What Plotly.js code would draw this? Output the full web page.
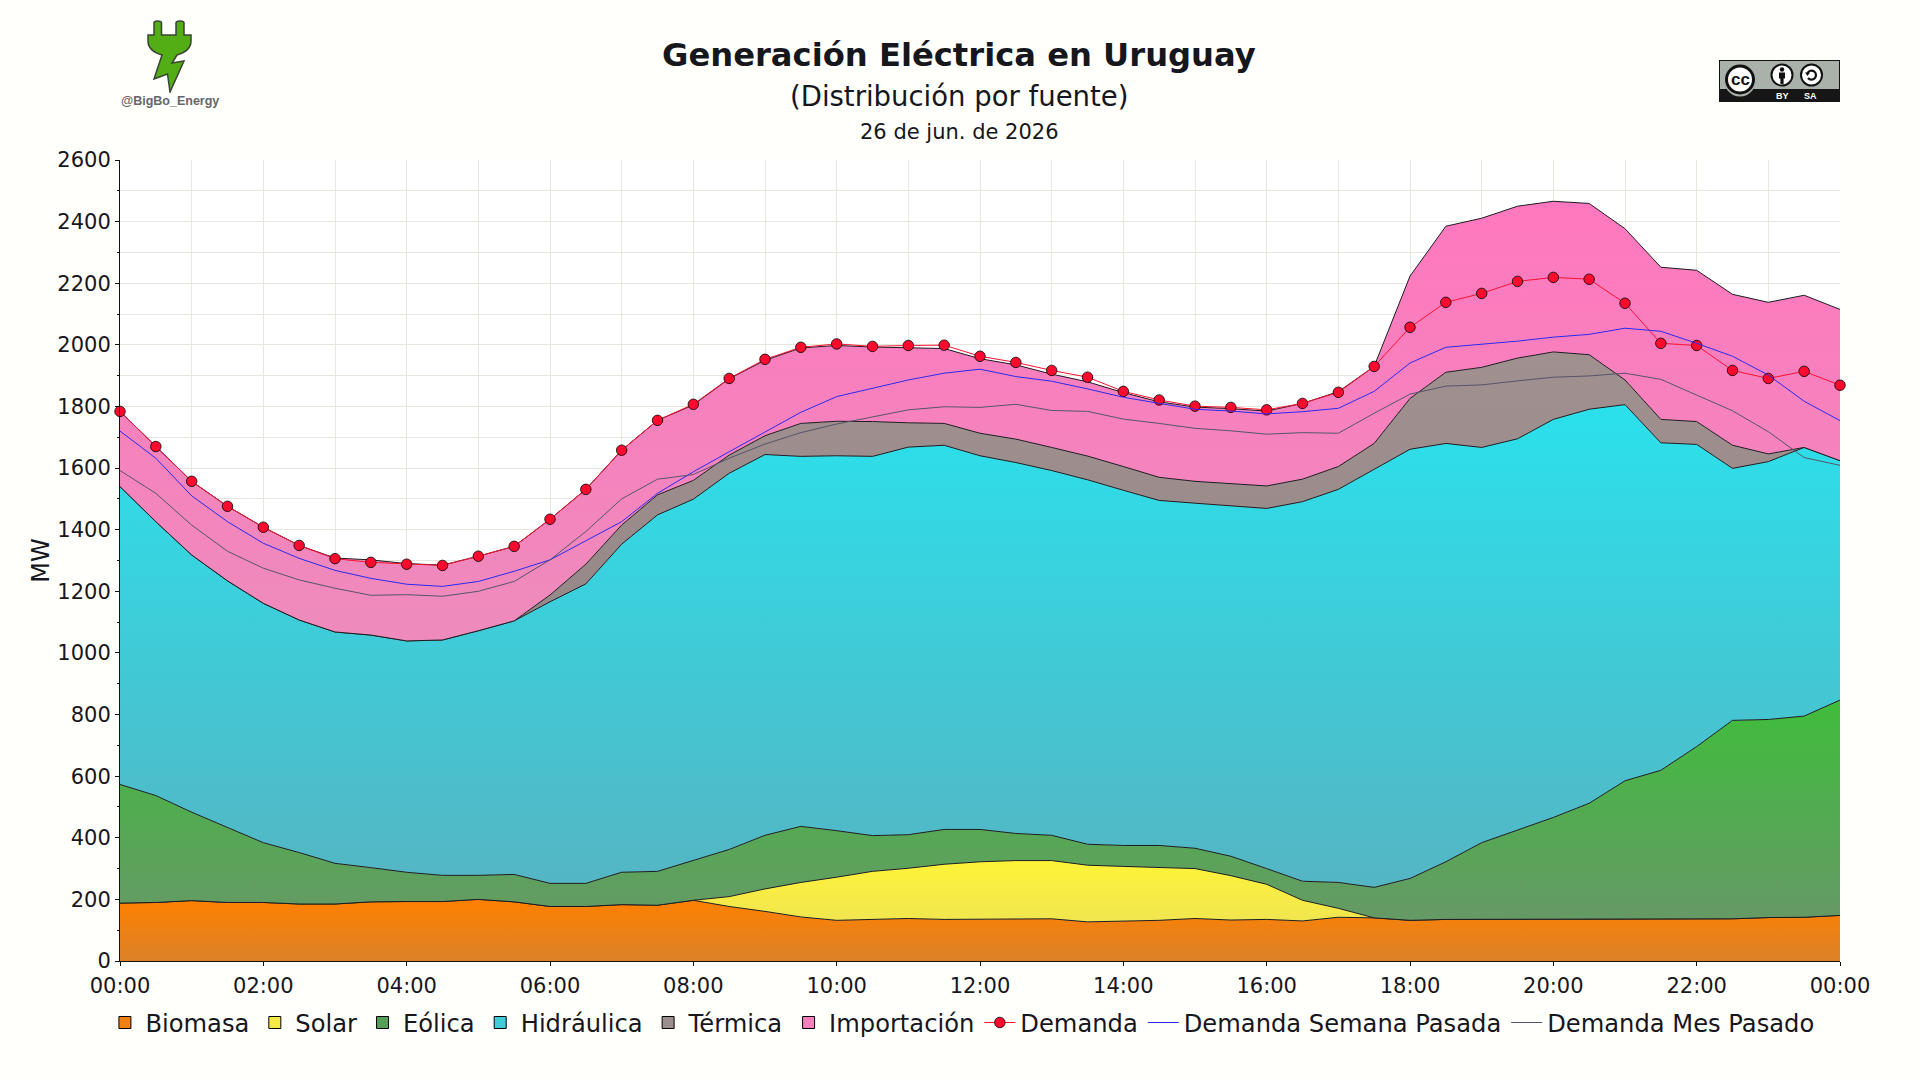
<!DOCTYPE html>
<html>
<head>
<meta charset="utf-8">
<script src="https://cdn.plot.ly/plotly-3.0.1.min.js"></script>
<style>
  html, body {margin: 0; padding: 0; background: #fffffb;}
</style>
</head>
<body>
<div id="chart" style="width:1920px;height:1080px"></div>
<script>
const horas = [
  '00:00','00:30','01:00','01:30','02:00','02:30','03:00','03:30','04:00','04:30','05:00','05:30',
  '06:00','06:30','07:00','07:30','08:00','08:30','09:00','09:30','10:00','10:30','11:00','11:30',
  '12:00','12:30','13:00','13:30','14:00','14:30','15:00','15:30','16:00','16:30','17:00','17:30',
  '18:00','18:30','19:00','19:30','20:00','20:30','21:00','21:30','22:00','22:30','23:00','23:30'
];

const biomasa = [188,190,196,190,190,185,185,192,193,193,200,192,177,177,183,181,197,177,161,143,132,135,138,135,135,137,137,127,129,132,138,133,135,130,142,140,132,135,135,135,135,135,137,137,135,137,141,142,148];
const solar = [0,0,0,0,0,0,0,0,0,0,0,0,0,0,0,0,0,32,73,112,140,156,163,179,187,189,189,184,178,172,162,144,114,67,29,0,0,0,0,0,0,0,0,0,0,0,0,0,0];
const eolica = [385,347,287,244,194,167,132,111,95,85,78,89,75,75,105,110,130,153,174,182,151,116,109,113,105,88,82,68,68,71,66,63,51,62,84,99,136,187,249,291,331,377,448,482,561,644,643,653,699];
const hidraulica = [967,889,835,800,777,755,751,755,751,764,794,823,914,972,1065,1157,1172,1221,1236,1201,1217,1231,1258,1247,1213,1204,1184,1183,1153,1120,1120,1137,1169,1232,1276,1357,1393,1358,1283,1269,1292,1279,1221,1063,981,818,837,872,777];
const termica = [0,0,0,0,0,0,0,0,0,0,0,0,22,64,62,65,61,59,61,107,112,113,79,71,73,76,75,77,77,75,71,72,73,73,74,84,165,231,260,262,219,177,80,76,74,75,25,0,0];
const importacion = [244,244,239,242,247,242,240,244,251,243,242,242,246,243,243,242,245,248,245,245,246,242,243,243,242,241,238,241,240,245,241,244,243,246,243,250,397,474,484,493,489,491,491,494,491,490,492,494,491];
const demanda = [1784,1670,1557,1476,1408,1349,1306,1294,1288,1284,1314,1346,1434,1531,1658,1755,1807,1891,1953,1992,2003,1995,1998,1999,1963,1943,1917,1895,1849,1821,1801,1797,1789,1810,1846,1930,2057,2138,2167,2206,2219,2213,2135,2005,1998,1917,1891,1914,1869];
const semanaPasada = [1720,1632,1510,1426,1356,1307,1268,1242,1223,1216,1232,1265,1302,1363,1426,1518,1588,1653,1717,1781,1832,1859,1886,1908,1921,1897,1882,1857,1830,1810,1791,1785,1776,1783,1794,1849,1941,1992,2002,2012,2025,2034,2054,2044,2005,1963,1902,1817,1754];
const mesPasado = [1592,1518,1415,1330,1275,1237,1210,1187,1189,1184,1200,1232,1302,1394,1500,1564,1579,1632,1678,1715,1743,1767,1789,1799,1797,1807,1787,1784,1759,1745,1729,1721,1710,1715,1713,1778,1840,1866,1870,1883,1895,1899,1908,1888,1838,1786,1718,1634,1609];

const x = horas.map(h => '2026-06-26 ' + h + ':00').concat(['2026-06-27 00:00:00']);

const FONT = 'DejaVu Sans, sans-serif';
const TEXT = '#16161d';

// px helpers, the logo and the badge sit outside the plot area
const px = v => (v - 120) / 1720;
const py = v => (961 - v) / 801;

function area(name, y, top, bottom) {
  return {
    x: x, y: y, name: name, type: 'scatter', mode: 'lines', stackgroup: 'uno',
    line: {color: '#1c1c20', width: 1},
    fillgradient: {type: 'vertical', colorscale: [[0, bottom], [1, top]]},
    showlegend: false, hoverinfo: 'x+y+name'
  };
}

function swatch(name, color) {
  return {
    x: [null], y: [null], name: name, type: 'scatter', mode: 'markers',
    marker: {symbol: 'square', size: 12, color: color, line: {color: '#000', width: 1}}
  };
}

function label(text, cx, cy, font) {
  return {text: text, xref: 'paper', yref: 'paper', x: px(cx), y: py(cy), xanchor: 'center', yanchor: 'middle', showarrow: false, font: font};
}

const traces = [
  area('Biomasa', biomasa, '#ff8000', '#db8228'),
  area('Solar', solar, '#fff338', '#f0e650'),
  area('Eólica', eolica, '#3fbd3b', '#669966'),
  area('Hidráulica', hidraulica, '#2ae1ec', '#55b5c3'),
  area('Térmica', termica, '#a19090', '#968888'),
  area('Importación', importacion, '#ff78bf', '#ee8bbc'),
  swatch('Biomasa', '#ee8014'),
  swatch('Solar', '#f6ea48'),
  swatch('Eólica', '#55a055'),
  swatch('Hidráulica', '#42cbd8'),
  swatch('Térmica', '#9c8e8e'),
  swatch('Importación', '#f682bd'),
  {
    x: x, y: demanda, name: 'Demanda', type: 'scatter', mode: 'lines+markers', cliponaxis: false,
    line: {color: '#ff1030', width: 1},
    marker: {size: 10.500, color: '#ff0a2e', line: {color: '#000', width: 0.800}}
  },
  {x: x, y: semanaPasada, name: 'Demanda Semana Pasada', type: 'scatter', mode: 'lines', line: {color: '#2a2aee', width: 1}},
  {x: x, y: mesPasado, name: 'Demanda Mes Pasado', type: 'scatter', mode: 'lines', line: {color: '#55556a', width: 1}}
];

const plug = "<svg xmlns='http://www.w3.org/2000/svg' viewBox='0 0 45 73'>" +
  "<path d='M7 15V3Q7 1 10.500 1Q14.500 1 14.500 3V15H29V3Q29 1 33 1Q37 1 37 3V15H44V21Q44 31 30 35L25 43L37 41L23 72L20.500 54L7 59L15 35Q1 31 1 21V15Z' " +
  "fill='#52ae14' stroke='#3a4238' stroke-width='1.5'/></svg>";

const badge = "<svg xmlns='http://www.w3.org/2000/svg' viewBox='0 0 121 42'>" +
  "<rect x='.5' y='.5' width='120' height='41' fill='#aab1aa' stroke='#111'/>" +
  "<rect x='0' y='29' width='121' height='13' fill='#161616'/>" +
  "<circle cx='21' cy='21' r='15.500' fill='#aab1aa'/>" +
  "<circle cx='21' cy='19.500' r='13.500' fill='#fff' stroke='#111' stroke-width='3'/>" +
  "<circle cx='63' cy='15' r='10.500' fill='#fff' stroke='#111' stroke-width='2'/>" +
  "<circle cx='63' cy='9.500' r='2.200' fill='#111'/>" +
  "<path d='M60 12.500H66V18.500H64.600V24H61.400V18.500H60Z' fill='#111'/>" +
  "<circle cx='92.500' cy='15' r='10.500' fill='#fff' stroke='#111' stroke-width='2'/>" +
  "<path d='M88.500 13A4.500 4.500 0 1 1 89 18' fill='none' stroke='#111' stroke-width='2.200'/>" +
  "<path d='M86 12.500L91 12.500L88.500 16Z' fill='#111'/></svg>";

const layout = {
  width: 1920,
  height: 1080,
  margin: {l: 120, r: 80, t: 160, b: 119},
  paper_bgcolor: '#fffffb',
  plot_bgcolor: '#ffffff',
  font: {family: FONT, color: TEXT, size: 21},
  showlegend: true,
  legend: {
    orientation: 'h', xref: 'container', yref: 'container', x: 0.501, xanchor: 'center',
    y: 0.053, yanchor: 'middle', font: {size: 24.200}, itemwidth: 31, bgcolor: 'rgba(0,0,0,0)', traceorder: 'normal'
  },
  xaxis: {
    type: 'date',
    range: ['2026-06-26 00:00:00', '2026-06-27 00:00:00'],
    dtick: 7200000, tick0: '2026-06-26 00:00:00', tickformat: '%H:%M',
    ticks: 'outside', ticklen: 4, ticklabelstandoff: 2, tickcolor: '#111', showline: true, linecolor: '#111',
    gridcolor: '#e6e6de', zeroline: false,
    minor: {dtick: 3600000, showgrid: true, gridcolor: '#e9e9e2', ticks: ''}
  },
  yaxis: {
    range: [0, 2600], dtick: 200,
    title: {text: 'MW', font: {size: 24}, standoff: 0},
    ticks: 'outside', ticklen: 4, tickcolor: '#111', showline: true, linecolor: '#111',
    gridcolor: '#e6e6de', zeroline: false,
    minor: {dtick: 100, showgrid: true, gridcolor: '#e6e6de', ticks: 'outside', ticklen: 2, tickcolor: '#111'}
  },
  images: [
    {source: 'data:image/svg+xml,' + encodeURIComponent(plug), xref: 'paper', yref: 'paper',
     x: px(147), y: py(20), sizex: 45 / 1720, sizey: 73 / 801, xanchor: 'left', yanchor: 'top', sizing: 'stretch', layer: 'above'},
    {source: 'data:image/svg+xml,' + encodeURIComponent(badge), xref: 'paper', yref: 'paper',
     x: px(1719), y: py(60), sizex: 121 / 1720, sizey: 42 / 801, xanchor: 'left', yanchor: 'top', sizing: 'stretch', layer: 'above'}
  ],
  annotations: [
    label('<b>Generación Eléctrica en Uruguay</b>', 959, 55, {size: 32.200}),
    label('(Distribución por fuente)', 959, 96, {size: 27.500}),
    label('26 de jun. de 2026', 959, 132, {size: 21}),
    label('<b>@BigBo_Energy</b>', 170, 101, {family: 'Liberation Sans, sans-serif', size: 12.500, color: '#666'}),
    label('<b>cc</b>', 1740, 80, {family: 'Liberation Sans, sans-serif', size: 17, color: '#111'}),
    label('<b>BY</b>', 1782, 96, {family: 'Liberation Sans, sans-serif', size: 9, color: '#fff'}),
    label('<b>SA</b>', 1810, 96, {family: 'Liberation Sans, sans-serif', size: 9, color: '#fff'})
  ]
};

Plotly.newPlot('chart', traces, layout, {displayModeBar: false});
</script>
</body>
</html>
